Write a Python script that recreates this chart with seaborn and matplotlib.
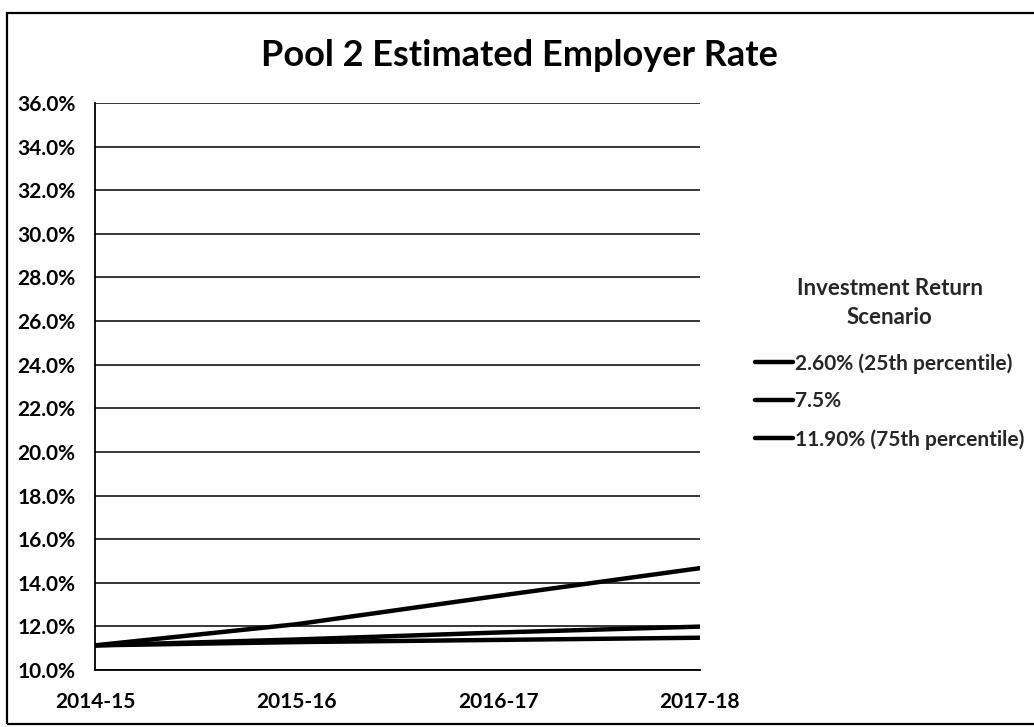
import matplotlib
matplotlib.use("Agg")
import matplotlib.pyplot as plt
import seaborn as sns
import pandas as pd
from matplotlib.patches import Rectangle
from matplotlib.ticker import FuncFormatter

years = ["2014-15", "2015-16", "2016-17", "2017-18"]
scenarios = ["2.60% (25th percentile)", "7.5%", "11.90% (75th percentile)"]
rate_25th = [11.13, 12.10, 13.40, 14.67]
rate_75 = [11.13, 11.40, 11.72, 11.99]
rate_75th = [11.13, 11.28, 11.38, 11.48]
yticks = [10, 12, 14, 16, 18, 20, 22, 24, 26, 28, 30, 32, 34, 36]

rows = []
for name, vals in zip(scenarios, [rate_25th, rate_75, rate_75th]):
    for i, (yr, v) in enumerate(zip(years, vals)):
        rows.append({"Year": yr, "x": i, "Rate": v, "Scenario": name})
df = pd.DataFrame(rows)

sns.set_theme(style="white")
plt.rcParams["font.family"] = ["Lato", "DejaVu Sans"]
plt.rcParams["font.weight"] = "bold"

fig = plt.figure(figsize=(10.34, 7.27), dpi=100)
ax = fig.add_axes([95/1034, 1-670/727, (700-95)/1034, (670-103)/727])

sns.lineplot(data=df, x="x", y="Rate", hue="Scenario", hue_order=scenarios,
             palette=["black"]*3, linewidth=3.2, ax=ax, legend=True, zorder=3)

ax.set_xlim(0, 3)
ax.set_ylim(10, 36)
ax.set_xticks(range(len(years)))
ax.set_xticklabels(years)
ax.set_yticks(yticks)
ax.yaxis.set_major_formatter(FuncFormatter(lambda v, p: f"{v:.1f}%"))
ax.set_xlabel("")
ax.set_ylabel("")
ax.grid(axis="y", color="black", linewidth=1.1)
ax.grid(axis="x", visible=False)
for s in ["top", "right"]:
    ax.spines[s].set_visible(False)
for s in ["left", "bottom"]:
    ax.spines[s].set_color("black")
    ax.spines[s].set_linewidth(1.3)
ax.tick_params(axis="both", which="major", direction="out", length=6, width=1.3,
               color="black", labelcolor="black")
ax.tick_params(axis="y", pad=8, labelsize=15)
ax.tick_params(axis="x", pad=10, labelsize=15)
for lab in ax.get_xticklabels() + ax.get_yticklabels():
    lab.set_fontweight("bold")

handles, labels = ax.get_legend_handles_labels()
ax.get_legend().remove()
leg = fig.legend(handles, labels, title="Investment Return\nScenario",
                 loc="upper left", bbox_to_anchor=(745/1034, 1-268/727),
                 bbox_transform=fig.transFigure,
                 frameon=False, fontsize=15, title_fontsize=16,
                 handlelength=1.8, handletextpad=0.1, labelspacing=0.85,
                 borderpad=0, alignment="center")
leg.get_title().set_fontweight("bold")
leg.get_title().set_multialignment("center")
leg.get_title().set_linespacing(1.45)
leg._legend_box.sep = 18
for t in leg.get_texts():
    t.set_fontweight("bold")
for h in leg.legend_handles:
    h.set_linewidth(3.2)

fig.text(519/1034, 1-55/727, "Pool 2 Estimated Employer Rate", ha="center", va="center",
         fontsize=26, fontweight="bold", color="black")

fig.patches.append(Rectangle((7/1034, 1-724/727), (1060-7)/1034, (724-13)/727,
                             transform=fig.transFigure, fill=False,
                             edgecolor="black", linewidth=1.6, clip_on=False))

fig.savefig("out.png", dpi=100, facecolor="white")
